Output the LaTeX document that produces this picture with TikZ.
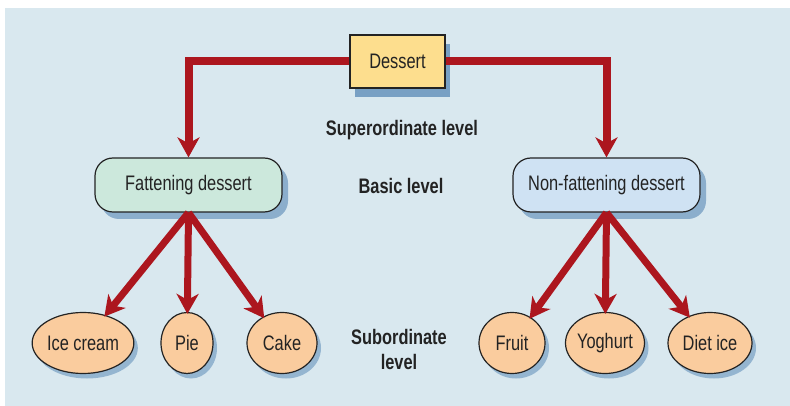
\documentclass[tikz,border=0pt]{standalone}
\usepackage{fontspec}
\setmainfont[FakeStretch=0.78]{Liberation Sans}
\usetikzlibrary{arrows.meta,shapes.geometric,shadows}

\definecolor{panel}{RGB}{217,232,239}
\definecolor{linkred}{RGB}{172,22,30}
\definecolor{topfill}{RGB}{253,222,142}
\definecolor{mint}{RGB}{204,232,220}
\definecolor{skyfill}{RGB}{207,226,243}
\definecolor{peach}{RGB}{250,204,158}
\definecolor{shade}{RGB}{120,160,196}
\definecolor{ink}{RGB}{35,35,35}

\tikzset{
  label text/.style={font=\fontsize{21}{25}\selectfont\bfseries, text=ink, align=center},
  node text/.style={font=\fontsize{21}{23}\selectfont, text=ink},
  topbox/.style={node text, draw=ink, line width=1.2pt, fill=topfill,
    minimum width=95pt, minimum height=53pt, inner sep=0pt,
    drop shadow={shadow xshift=5pt, shadow yshift=-9pt, fill=shade, opacity=1}},
  basicbox/.style={node text, draw=ink, line width=1.2pt, rounded corners=18pt,
    minimum width=187pt, minimum height=54pt, inner sep=0pt,
    drop shadow={shadow xshift=6pt, shadow yshift=-7pt, fill=shade, opacity=0.8}},
  leafnode/.style={node text, ellipse, draw=ink, line width=1.2pt, fill=peach,
    minimum height=61pt, inner sep=0pt,
    drop shadow={shadow xshift=4pt, shadow yshift=-5pt, fill=shade, opacity=0.7}},
  link/.style={draw=linkred, line width=8pt, line join=miter},
  linkarrow/.style={link, -{Stealth[length=20pt, width=22pt, inset=6pt]}},
  branch/.style={draw=linkred, line width=7pt,
    -{Stealth[length=20pt, width=22pt, inset=6pt]}, shorten >=-2pt}
}

\begin{document}
\begin{tikzpicture}[x=1pt, y=-1pt]
  \useasboundingbox (0,0) rectangle (790,406);
  \fill[white] (0,0) rectangle (790,406);
  \fill[panel] (5,8) rectangle (790,406);

  % top concept
  \node[topbox] (dessert) at (397.5,61.5) {Dessert};

  % basic level
  \node[basicbox, fill=mint] (fat) at (188.5,185) {Fattening dessert};
  \node[basicbox, fill=skyfill] (nonfat) at (606.5,185) {Non-fattening dessert};

  % subordinate level
  \node[leafnode, minimum width=100pt] (icecream) at (83,343) {Ice cream};
  \node[leafnode, minimum width=52pt]  (pie)      at (187,343) {Pie};
  \node[leafnode, minimum width=70pt]  (cake)     at (282,343) {Cake};
  \node[leafnode, minimum width=66pt]  (fruit)    at (512,343) {Fruit};
  \node[leafnode, minimum width=79pt]  (yoghurt)  at (605,343) {Yoghurt};
  \node[leafnode, minimum width=84pt]  (dietice)  at (710,343) {Diet ice};

  % level labels
  \node[label text] (super) at (402,130) {Superordinate level};
  \node[label text] (basic) at (401,186) {Basic level};
  \node[label text] (sub)   at (399,349) {Subordinate\\level};

  % links from the top concept
  \draw[linkarrow] (dessert.west) -| (fat.north);
  \draw[linkarrow] (dessert.east) -| (nonfat.north);

  % links to the subordinate concepts
  \draw[branch] (fat.south) -- (icecream);
  \draw[branch] (fat.south) -- (pie);
  \draw[branch] (fat.south) -- (cake);
  \draw[branch] (nonfat.south) -- (fruit);
  \draw[branch] (nonfat.south) -- (yoghurt);
  \draw[branch] (nonfat.south) -- (dietice);
\end{tikzpicture}
\end{document}
